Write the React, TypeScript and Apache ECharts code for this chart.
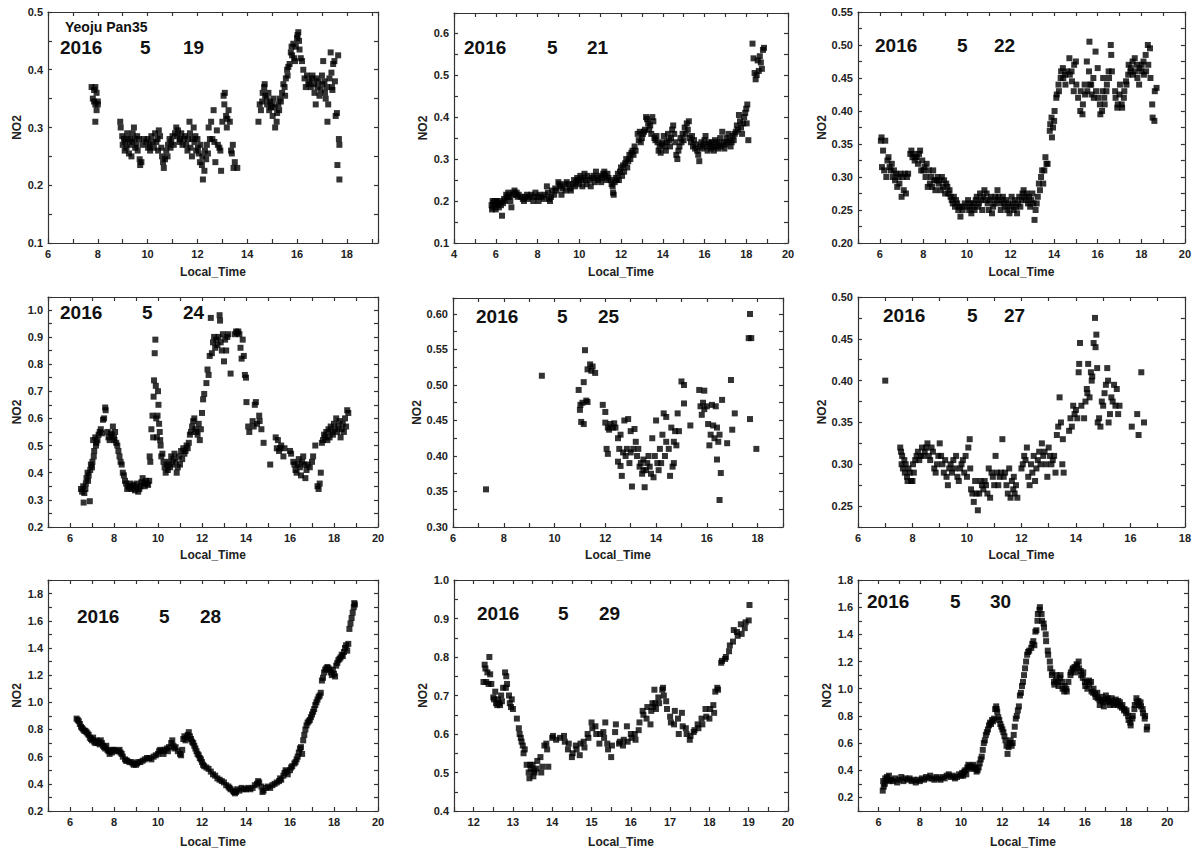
import React, { useEffect, useRef } from 'react';
import * as echarts from 'echarts';

const YEAR = '2016';
const MONTH = '5';
const DAYS = ['19', '21', '22', '24', '25', '27', '28', '29', '30'];
const SITE = 'Yeoju Pan35';
const X_NAME = 'Local_Time';
const Y_NAME = 'NO2';

const d0519 = [
  [7.75,0.37],[7.8,0.35],[7.85,0.365],[7.85,0.345],[7.9,0.37],[7.9,0.34],[7.95,0.36],[7.95,0.33],[7.9,0.31],[8.0,0.345],[8.0,0.34],
  [8.9,0.31],[8.92,0.3],[8.98,0.285],[9.0,0.27],[9.05,0.28],[9.08,0.26],[9.1,0.275],[9.15,0.265],[9.18,0.29],[9.2,0.28],[9.25,0.255],[9.28,0.27],[9.3,0.28],[9.35,0.25],[9.38,0.275],[9.4,0.29],[9.45,0.3],[9.48,0.28],[9.5,0.265],[9.55,0.27],[9.58,0.285],[9.6,0.26],[9.65,0.28],[9.68,0.245],[9.7,0.235],[9.75,0.24],[9.8,0.27],[9.85,0.28],
  [9.95,0.275],[10.0,0.28],[10.02,0.265],[10.08,0.27],[10.1,0.26],[10.15,0.285],[10.2,0.275],[10.25,0.265],[10.3,0.29],[10.35,0.275],[10.4,0.28],[10.42,0.26],[10.45,0.295],[10.5,0.285],[10.55,0.265],[10.58,0.25],[10.62,0.24],[10.65,0.23],[10.7,0.245],[10.75,0.26],[10.8,0.25],[10.82,0.27],[10.88,0.28],[10.92,0.265],[10.95,0.275],[11.0,0.285],[11.05,0.27],[11.1,0.29],[11.15,0.3],[11.2,0.285],[11.22,0.295],[11.28,0.275],[11.3,0.28],[11.35,0.29],[11.4,0.27],[11.45,0.28],[11.5,0.285],[11.55,0.27],[11.6,0.26],[11.62,0.28],[11.68,0.31],[11.7,0.29],[11.72,0.265],[11.78,0.25],[11.8,0.28],[11.85,0.3],[11.88,0.275],[11.92,0.285],[11.95,0.26],[12.0,0.28],[12.02,0.265],[12.05,0.255],[12.1,0.24],[12.12,0.27],[12.18,0.235],[12.2,0.25],[12.22,0.21],[12.28,0.225],[12.3,0.26],[12.35,0.245],[12.38,0.27],[12.42,0.255],[12.45,0.3],[12.5,0.28],[12.55,0.31],[12.6,0.28],[12.65,0.33],[12.68,0.275],[12.72,0.24],[12.78,0.295],[12.82,0.27],[12.88,0.265],[12.92,0.26],[12.95,0.225],[13.0,0.31],[13.05,0.355],[13.08,0.34],[13.1,0.36],[13.15,0.32],[13.18,0.3],[13.2,0.315],[13.25,0.33],[13.3,0.31],[13.35,0.26],[13.38,0.255],[13.42,0.27],[13.45,0.23],[13.5,0.24],[13.6,0.23],
  [14.45,0.31],[14.5,0.34],[14.55,0.33],[14.6,0.345],[14.62,0.36],[14.68,0.37],[14.7,0.375],[14.72,0.355],[14.78,0.35],[14.8,0.34],[14.85,0.36],[14.88,0.33],[14.92,0.345],[14.95,0.335],[15.0,0.34],[15.02,0.32],[15.05,0.35],[15.1,0.335],[15.12,0.3],[15.18,0.31],[15.2,0.325],[15.25,0.34],[15.28,0.33],[15.3,0.35],[15.35,0.345],[15.4,0.36],[15.45,0.375],[15.5,0.37],[15.52,0.355],[15.55,0.385],[15.6,0.4],[15.62,0.39],[15.65,0.405],[15.7,0.41],[15.75,0.43],[15.78,0.44],[15.8,0.425],[15.85,0.445],[15.88,0.42],[15.92,0.415],[15.95,0.44],[16.0,0.455],[16.02,0.46],[16.05,0.465],[16.08,0.45],[16.1,0.435],[16.15,0.42],[16.2,0.415],[16.25,0.4],[16.3,0.385],[16.35,0.37],[16.4,0.39],[16.45,0.375],[16.5,0.38],[16.55,0.37],[16.6,0.385],[16.62,0.39],[16.68,0.375],[16.7,0.36],[16.75,0.34],[16.78,0.385],[16.82,0.37],[16.85,0.38],[16.9,0.355],[16.95,0.365],[17.0,0.39],[17.02,0.375],[17.05,0.415],[17.1,0.38],[17.12,0.36],[17.15,0.35],[17.2,0.37],[17.22,0.31],[17.25,0.34],[17.3,0.385],[17.35,0.43],[17.38,0.395],[17.4,0.37],[17.42,0.365],[17.45,0.41],[17.5,0.415],[17.52,0.38],[17.55,0.32],[17.6,0.325],[17.65,0.425],[17.68,0.28],[17.7,0.27],[17.62,0.235],[17.7,0.21]
];

const d0521 = [
  [5.8,0.19],[5.82,0.18],[5.85,0.2],[5.88,0.185],[5.9,0.195],[5.95,0.2],[6.0,0.18],[6.02,0.19],[6.05,0.2],[6.1,0.195],[6.15,0.185],[6.2,0.2],[6.25,0.19],[6.3,0.165],[6.35,0.195],[6.4,0.205],[6.45,0.2],[6.5,0.215],[6.55,0.21],[6.6,0.22],[6.65,0.21],[6.7,0.2],[6.75,0.185],[6.8,0.215],[6.85,0.22],[6.9,0.225],[6.95,0.215],[7.0,0.22],[7.05,0.21],[7.1,0.215],[7.2,0.21],[7.3,0.205],[7.35,0.2],[7.4,0.21],[7.5,0.215],[7.55,0.205],[7.6,0.21],[7.7,0.215],[7.8,0.2],[7.85,0.21],[7.9,0.22],[8.0,0.21],[8.05,0.2],[8.1,0.215],[8.2,0.21],[8.3,0.205],[8.35,0.215],[8.45,0.235],[8.5,0.22],[8.55,0.205],[8.6,0.2],[8.65,0.21],[8.7,0.225],[8.8,0.215],[8.85,0.23],[8.9,0.225],[9.0,0.245],[9.05,0.24],[9.1,0.235],[9.15,0.215],[9.2,0.23],[9.3,0.24],[9.35,0.225],[9.4,0.245],[9.5,0.24],[9.55,0.23],[9.6,0.225],[9.7,0.24],[9.75,0.25],[9.8,0.235],[9.85,0.245],[9.9,0.255],[9.95,0.25],[10.0,0.24],[10.05,0.26],[10.1,0.25],[10.15,0.235],[10.2,0.255],[10.25,0.265],[10.3,0.25],[10.35,0.24],[10.4,0.26],[10.5,0.25],[10.55,0.235],[10.6,0.255],[10.7,0.26],[10.75,0.245],[10.8,0.27],[10.85,0.255],[10.9,0.25],[11.0,0.26],[11.05,0.245],[11.1,0.255],[11.15,0.265],[11.2,0.27],[11.25,0.26],[11.3,0.25],[11.35,0.265],[11.4,0.255],[11.5,0.25],[11.55,0.24],[11.6,0.235],[11.62,0.22],[11.65,0.215],[11.7,0.245],[11.75,0.255],[11.8,0.25],[11.85,0.265],[11.9,0.25],[11.95,0.27],[12.0,0.28],[12.05,0.26],[12.1,0.285],[12.15,0.27],[12.2,0.29],[12.25,0.3],[12.3,0.28],[12.35,0.295],[12.4,0.31],[12.45,0.3],[12.5,0.315],[12.55,0.32],[12.6,0.31],[12.65,0.33],[12.7,0.32],[12.8,0.36],[12.85,0.345],[12.9,0.365],[12.95,0.34],[13.0,0.35],[13.05,0.36],[13.1,0.365],[13.15,0.37],[13.2,0.4],[13.25,0.395],[13.3,0.385],[13.35,0.37],[13.4,0.38],[13.45,0.36],[13.5,0.4],[13.55,0.39],[13.6,0.35],[13.65,0.345],[13.7,0.355],[13.75,0.34],[13.8,0.32],[13.85,0.33],[13.9,0.315],[13.95,0.335],[14.0,0.34],[14.05,0.355],[14.1,0.33],[14.15,0.32],[14.2,0.34],[14.25,0.36],[14.3,0.345],[14.35,0.33],[14.4,0.35],[14.45,0.37],[14.5,0.38],[14.55,0.36],[14.6,0.34],[14.65,0.31],[14.7,0.3],[14.75,0.32],[14.8,0.33],[14.85,0.35],[14.9,0.34],[14.95,0.36],[15.0,0.345],[15.05,0.375],[15.1,0.36],[15.15,0.385],[15.2,0.37],[15.25,0.39],[15.3,0.35],[15.35,0.34],[15.4,0.355],[15.45,0.33],[15.5,0.345],[15.55,0.325],[15.6,0.335],[15.65,0.32],[15.7,0.31],[15.75,0.295],[15.8,0.33],[15.85,0.34],[15.9,0.325],[15.95,0.335],[16.0,0.345],[16.05,0.355],[16.1,0.33],[16.15,0.32],[16.2,0.34],[16.25,0.335],[16.3,0.325],[16.35,0.34],[16.4,0.33],[16.45,0.32],[16.5,0.345],[16.55,0.33],[16.6,0.34],[16.65,0.325],[16.7,0.335],[16.75,0.35],[16.8,0.33],[16.85,0.365],[16.9,0.34],[16.95,0.325],[17.0,0.335],[17.05,0.35],[17.1,0.34],[17.15,0.36],[17.2,0.345],[17.25,0.33],[17.3,0.34],[17.35,0.355],[17.4,0.345],[17.45,0.36],[17.5,0.365],[17.55,0.38],[17.6,0.37],[17.65,0.405],[17.7,0.39],[17.75,0.375],[17.8,0.36],[17.85,0.385],[17.9,0.4],[17.95,0.41],[18.0,0.42],[18.02,0.385],[18.05,0.43],[18.1,0.345],
  [18.3,0.575],[18.35,0.54],[18.4,0.505],[18.45,0.49],[18.5,0.5],[18.55,0.535],[18.6,0.51],[18.65,0.545],[18.7,0.53],[18.75,0.515],[18.8,0.56],[18.85,0.565]
];

const d0522 = [
  [6.05,0.355],[6.08,0.36],[6.1,0.315],[6.15,0.34],[6.2,0.31],[6.25,0.355],[6.3,0.3],[6.35,0.325],[6.4,0.33],[6.45,0.315],[6.5,0.31],[6.55,0.32],[6.6,0.3],[6.65,0.31],[6.7,0.295],[6.75,0.305],[6.8,0.285],[6.85,0.3],[6.9,0.29],[6.95,0.305],[7.0,0.27],[7.05,0.3],[7.1,0.28],[7.15,0.305],[7.2,0.275],[7.25,0.3],[7.3,0.305],
  [7.4,0.335],[7.45,0.34],[7.5,0.33],[7.55,0.335],[7.6,0.325],[7.65,0.33],[7.7,0.33],[7.75,0.32],[7.8,0.335],[7.85,0.34],[7.9,0.31],[7.95,0.325],[8.0,0.31],[8.05,0.315],[8.1,0.3],[8.15,0.32],[8.2,0.285],[8.25,0.31],[8.3,0.29],[8.35,0.3],[8.4,0.285],[8.45,0.31],[8.5,0.295],[8.55,0.28],[8.6,0.295],[8.65,0.3],[8.7,0.29],[8.75,0.295],[8.8,0.28],[8.85,0.3],[8.9,0.285],[8.95,0.295],[9.0,0.275],[9.05,0.29],[9.1,0.285],[9.15,0.275],[9.2,0.28],[9.25,0.27],[9.3,0.265],[9.35,0.26],[9.4,0.27],[9.45,0.255],[9.5,0.265],[9.55,0.26],[9.6,0.25],[9.65,0.255],[9.7,0.24],[9.75,0.255],[9.8,0.25],[9.9,0.26],
  [10.0,0.255],[10.05,0.265],[10.1,0.25],[10.15,0.26],[10.2,0.245],[10.25,0.255],[10.3,0.26],[10.35,0.25],[10.4,0.265],[10.45,0.27],[10.5,0.255],[10.55,0.26],[10.6,0.275],[10.65,0.265],[10.7,0.25],[10.75,0.27],[10.8,0.28],[10.85,0.265],[10.9,0.275],[10.95,0.26],[11.0,0.25],[11.05,0.265],[11.1,0.27],[11.15,0.245],[11.2,0.255],[11.25,0.26],[11.3,0.27],[11.35,0.265],[11.4,0.28],[11.45,0.27],[11.5,0.26],[11.55,0.25],[11.6,0.265],[11.65,0.27],[11.7,0.26],[11.75,0.255],[11.8,0.265],[11.85,0.25],[11.9,0.26],[11.95,0.245],[12.0,0.255],[12.05,0.27],[12.1,0.26],[12.15,0.25],[12.2,0.265],[12.25,0.255],[12.3,0.245],[12.35,0.26],[12.4,0.27],[12.45,0.255],[12.5,0.265],[12.55,0.275],[12.6,0.28],[12.65,0.27],[12.7,0.265],[12.75,0.275],[12.8,0.26],[12.85,0.27],[12.9,0.255],[12.95,0.265],[13.0,0.275],[13.05,0.26],[13.1,0.235],[13.15,0.25],[13.2,0.26],
  [13.25,0.27],[13.3,0.29],[13.35,0.28],[13.4,0.3],[13.45,0.31],[13.5,0.29],[13.55,0.31],[13.6,0.33],[13.65,0.32],[13.7,0.32],[13.8,0.37],[13.82,0.38],[13.88,0.39],[13.9,0.36],[13.95,0.375],[14.0,0.385],[14.02,0.4],[14.1,0.42],[14.12,0.425],[14.2,0.44],[14.22,0.43],[14.3,0.45],[14.32,0.46],[14.4,0.465],[14.42,0.45],[14.5,0.455],[14.52,0.44],[14.6,0.46],[14.7,0.48],[14.72,0.455],[14.8,0.46],[14.82,0.445],[14.9,0.43],[14.92,0.47],[15.0,0.475],[15.02,0.44],[15.1,0.42],[15.2,0.4],[15.22,0.43],[15.3,0.395],[15.32,0.41],[15.4,0.44],[15.42,0.425],[15.5,0.475],[15.52,0.43],[15.6,0.46],[15.62,0.505],[15.65,0.44],[15.7,0.44],[15.72,0.425],[15.8,0.45],[15.82,0.42],[15.9,0.49],[15.92,0.43],[16.0,0.465],[16.02,0.42],[16.1,0.41],[16.12,0.395],[16.2,0.4],[16.22,0.43],[16.25,0.45],[16.3,0.42],[16.32,0.41],[16.4,0.43],[16.42,0.44],[16.5,0.46],[16.52,0.45],[16.6,0.5],[16.62,0.485],[16.65,0.46],[16.8,0.43],[16.82,0.42],[16.9,0.405],[16.92,0.41],[17.0,0.425],[17.02,0.44],[17.1,0.41],[17.12,0.405],[17.2,0.42],[17.22,0.43],[17.3,0.445],[17.32,0.44],[17.4,0.455],[17.42,0.47],[17.5,0.46],[17.52,0.465],[17.6,0.475],[17.62,0.455],[17.7,0.48],[17.72,0.46],[17.8,0.47],[17.82,0.45],[17.9,0.44],[17.92,0.465],[18.0,0.46],[18.02,0.47],[18.1,0.475],[18.12,0.455],[18.2,0.485],[18.22,0.46],[18.3,0.5],[18.32,0.47],[18.4,0.495],[18.42,0.45],[18.5,0.41],[18.52,0.39],[18.6,0.385],[18.62,0.43],[18.7,0.435]
];

const d0524 = [
  [6.5,0.34],[6.55,0.33],[6.6,0.35],[6.62,0.29],[6.65,0.325],[6.7,0.34],[6.72,0.36],[6.75,0.38],[6.8,0.4],[6.82,0.37],[6.85,0.39],[6.9,0.295],[6.92,0.41],[6.95,0.43],[7.0,0.42],[7.02,0.44],[7.05,0.52],[7.08,0.46],[7.1,0.48],[7.15,0.53],[7.18,0.5],[7.2,0.51],[7.25,0.52],[7.3,0.54],[7.35,0.55],[7.4,0.56],[7.45,0.545],[7.5,0.595],[7.55,0.6],[7.6,0.64],[7.62,0.63],[7.7,0.55],[7.75,0.53],[7.8,0.52],[7.85,0.545],[7.9,0.54],[7.95,0.57],[8.0,0.53],[8.02,0.52],[8.05,0.55],[8.1,0.51],[8.15,0.5],[8.2,0.48],[8.25,0.46],[8.3,0.44],[8.35,0.43],[8.4,0.4],[8.45,0.39],[8.5,0.37],[8.55,0.36],[8.6,0.34],[8.65,0.35],[8.7,0.345],[8.75,0.36],[8.8,0.34],[8.85,0.35],[8.9,0.355],[8.95,0.335],[9.0,0.345],[9.05,0.36],[9.1,0.33],[9.15,0.34],[9.2,0.35],[9.25,0.365],[9.3,0.38],[9.35,0.36],[9.4,0.35],[9.45,0.37],[9.5,0.36],[9.55,0.355],[9.6,0.37],
  [9.62,0.46],[9.65,0.44],[9.7,0.56],[9.75,0.61],[9.78,0.53],[9.8,0.68],[9.82,0.74],[9.85,0.84],[9.88,0.89],[9.9,0.72],[9.92,0.6],[9.95,0.53],[9.98,0.61],[10.0,0.7],[10.02,0.65],[10.05,0.58],[10.08,0.55],[10.1,0.52],[10.12,0.5],[10.15,0.46],[10.2,0.47],[10.25,0.44],[10.3,0.42],[10.35,0.4],[10.4,0.43],[10.45,0.41],[10.5,0.44],[10.55,0.42],[10.6,0.46],[10.65,0.43],[10.7,0.45],[10.75,0.47],[10.8,0.44],[10.85,0.4],[10.9,0.42],[10.95,0.46],[11.0,0.43],[11.05,0.48],[11.1,0.45],[11.15,0.49],[11.2,0.47],[11.25,0.48],[11.3,0.5],[11.35,0.49],[11.4,0.51],[11.45,0.54],[11.5,0.55],[11.55,0.57],[11.6,0.59],[11.65,0.6],[11.7,0.56],[11.75,0.55],[11.8,0.54],[11.85,0.58],[11.9,0.52],[11.95,0.56],[12.0,0.62],[12.05,0.67],[12.1,0.69],[12.2,0.73],[12.25,0.78],[12.3,0.76],[12.35,0.83],[12.4,0.97],[12.45,0.84],[12.5,0.88],[12.55,0.9],[12.6,0.86],[12.65,0.89],[12.7,0.87],[12.75,0.9],[12.8,0.98],[12.82,0.96],[12.85,0.88],[12.9,0.85],[12.95,0.91],[13.0,0.81],[13.05,0.89],[13.1,0.85],[13.15,0.9],[13.2,0.91],[13.3,0.765],[13.5,0.91],[13.55,0.92],[13.6,0.915],[13.65,0.92],[13.7,0.91],[13.75,0.86],[13.8,0.82],[13.85,0.89],[13.9,0.83],[13.95,0.76],[14.0,0.75],[14.02,0.66],[14.1,0.57],[14.15,0.55],[14.3,0.59],[14.35,0.57],[14.4,0.65],[14.45,0.66],[14.5,0.58],[14.6,0.61],[14.62,0.59],[14.7,0.56],[14.8,0.51],[15.1,0.43],[15.35,0.53],[15.4,0.49],[15.45,0.52],[15.5,0.48],[15.55,0.49],[15.6,0.5],[15.7,0.46],[15.75,0.49],[16.0,0.48],[16.05,0.47],[16.15,0.44],[16.2,0.43],[16.25,0.41],[16.3,0.4],[16.35,0.43],[16.4,0.45],[16.45,0.42],[16.5,0.39],[16.55,0.44],[16.6,0.46],[16.65,0.43],[16.7,0.38],[16.75,0.41],[16.8,0.43],[16.9,0.42],[17.0,0.44],[17.05,0.46],[17.15,0.5],[17.25,0.35],[17.3,0.34],[17.35,0.36],[17.4,0.4],[17.45,0.51],[17.5,0.52],[17.55,0.54],[17.6,0.53],[17.65,0.55],[17.7,0.52],[17.75,0.56],[17.8,0.53],[17.85,0.57],[17.9,0.55],[17.95,0.54],[18.0,0.58],[18.05,0.56],[18.1,0.6],[18.15,0.55],[18.2,0.57],[18.25,0.59],[18.3,0.53],[18.35,0.56],[18.4,0.58],[18.45,0.55],[18.5,0.6],[18.55,0.57],[18.6,0.63],[18.65,0.62]
];

const d0525 = [
  [7.3,0.353],[9.5,0.513],
  [10.95,0.493],[11.0,0.465],[11.02,0.472],[11.05,0.448],[11.1,0.475],[11.15,0.504],[11.15,0.445],[11.2,0.549],[11.25,0.478],[11.3,0.476],[11.3,0.522],[11.4,0.529],[11.45,0.52],[11.5,0.526],[11.6,0.517],
  [11.9,0.472],[12.0,0.447],[12.0,0.462],[12.05,0.41],[12.1,0.44],[12.1,0.403],[12.15,0.437],[12.2,0.445],[12.3,0.44],[12.35,0.446],[12.4,0.44],[12.5,0.392],[12.5,0.425],[12.55,0.41],[12.6,0.43],[12.6,0.386],[12.65,0.372],[12.7,0.405],[12.75,0.45],[12.8,0.4],[12.85,0.41],[12.9,0.452],[12.95,0.39],[13.0,0.405],[13.0,0.435],[13.05,0.357],[13.1,0.41],[13.15,0.438],[13.2,0.42],[13.25,0.4],[13.3,0.41],[13.35,0.385],[13.4,0.39],[13.45,0.375],[13.5,0.38],[13.5,0.395],[13.55,0.356],[13.6,0.38],[13.65,0.39],[13.7,0.4],[13.75,0.385],[13.8,0.375],[13.85,0.425],[13.9,0.37],[13.95,0.4],[14.0,0.45],[14.05,0.39],[14.1,0.38],[14.15,0.41],[14.2,0.39],[14.25,0.43],[14.3,0.46],[14.35,0.4],[14.4,0.455],[14.4,0.42],[14.5,0.41],[14.55,0.372],[14.6,0.44],[14.65,0.385],[14.7,0.39],[14.7,0.42],[14.75,0.435],[14.8,0.415],[14.85,0.46],[14.9,0.435],[15.0,0.505],[15.1,0.5],[15.1,0.474],[15.35,0.443],
  [15.7,0.493],[15.75,0.47],[15.8,0.458],[15.85,0.475],[15.9,0.492],[15.9,0.466],[16.0,0.47],[16.05,0.445],[16.1,0.415],[16.15,0.43],[16.2,0.472],[16.25,0.443],[16.3,0.425],[16.35,0.47],[16.4,0.44],[16.4,0.395],[16.45,0.42],[16.5,0.43],[16.5,0.338],[16.55,0.376],[16.6,0.479],[16.8,0.418],[16.95,0.507],[17.0,0.437],[17.1,0.46],[17.65,0.566],[17.7,0.6],[17.75,0.566],[17.7,0.452],[17.95,0.41]
];

const d0527 = [
  [7.0,0.4],
  [7.55,0.32],[7.58,0.315],[7.6,0.3],[7.62,0.31],[7.65,0.295],[7.7,0.305],[7.72,0.29],[7.75,0.3],[7.8,0.285],[7.82,0.28],[7.85,0.295],[7.9,0.29],[7.95,0.28],[8.0,0.28],[8.02,0.3],[8.05,0.29],[8.1,0.305],[8.15,0.31],[8.2,0.315],[8.25,0.305],[8.3,0.31],[8.35,0.32],[8.4,0.31],[8.45,0.315],[8.5,0.32],[8.55,0.325],[8.6,0.31],[8.65,0.305],[8.7,0.32],[8.75,0.315],[8.8,0.295],[8.85,0.29],[8.9,0.3],[8.95,0.31],[9.0,0.325],[9.05,0.31],[9.1,0.3],[9.15,0.29],[9.2,0.305],[9.25,0.285],[9.3,0.275],[9.35,0.295],[9.4,0.3],[9.45,0.29],[9.5,0.305],[9.55,0.295],[9.6,0.31],[9.65,0.285],[9.7,0.28],[9.75,0.295],[9.8,0.3],[9.85,0.305],[9.9,0.29],[9.95,0.31],[10.0,0.285],[10.05,0.32],[10.1,0.33],[10.12,0.295],[10.15,0.27],[10.2,0.265],[10.25,0.255],[10.3,0.28],[10.35,0.265],[10.4,0.245],[10.45,0.265],[10.5,0.28],[10.55,0.275],[10.6,0.27],[10.65,0.28],[10.7,0.275],[10.75,0.265],[10.8,0.295],[10.85,0.26],[10.9,0.29],[10.95,0.285],[11.0,0.275],[11.05,0.31],[11.1,0.29],[11.15,0.275],[11.2,0.285],[11.25,0.29],[11.3,0.33],[11.35,0.285],[11.4,0.29],[11.45,0.275],[11.5,0.265],[11.55,0.295],[11.6,0.26],[11.65,0.28],[11.7,0.27],[11.72,0.285],[11.75,0.265],[11.8,0.275],[11.85,0.26],
  [12.0,0.295],[12.05,0.3],[12.1,0.31],[12.15,0.305],[12.2,0.32],[12.25,0.285],[12.3,0.275],[12.35,0.3],[12.4,0.29],[12.45,0.31],[12.5,0.28],[12.55,0.295],[12.6,0.305],[12.65,0.315],[12.7,0.3],[12.75,0.325],[12.8,0.31],[12.85,0.315],[12.9,0.3],[12.95,0.285],[13.0,0.32],[13.05,0.31],[13.1,0.3],[13.15,0.305],[13.2,0.31],[13.25,0.29],[13.3,0.335],[13.35,0.345],[13.4,0.38],[13.45,0.35],[13.5,0.3],[13.52,0.33],[13.55,0.29],
  [13.75,0.34],[13.8,0.355],[13.85,0.345],[13.9,0.37],[13.95,0.36],[14.0,0.365],[14.05,0.355],[14.1,0.41],[14.12,0.42],[14.15,0.445],[14.2,0.37],[14.3,0.355],[14.35,0.375],[14.4,0.39],[14.42,0.385],[14.45,0.42],[14.5,0.38],[14.55,0.41],[14.58,0.4],[14.6,0.405],[14.65,0.445],[14.7,0.475],[14.72,0.44],[14.75,0.455],[14.78,0.415],[14.8,0.35],[14.85,0.355],[14.9,0.345],[14.95,0.375],[15.0,0.37],[15.05,0.385],[15.1,0.395],[15.15,0.415],[15.18,0.4],[15.2,0.35],[15.25,0.36],[15.3,0.38],[15.35,0.375],[15.4,0.395],[15.45,0.37],[15.5,0.39],[15.55,0.36],[15.6,0.37],
  [16.05,0.345],[16.25,0.36],[16.3,0.335],[16.4,0.41],[16.5,0.35]
];

const d0528 = [
  [6.3,0.88],[6.35,0.87],[6.4,0.86],[6.45,0.84],[6.5,0.82],[6.55,0.81],[6.6,0.8],[6.65,0.79],[6.7,0.79],[6.75,0.78],[6.8,0.77],[6.85,0.76],[6.9,0.74],[6.95,0.73],[7.0,0.72],[7.05,0.74],[7.1,0.71],[7.15,0.7],[7.2,0.72],[7.25,0.7],[7.3,0.71],[7.35,0.69],[7.4,0.72],[7.45,0.7],[7.5,0.68],[7.55,0.67],[7.6,0.66],[7.65,0.68],[7.7,0.65],[7.75,0.64],[7.8,0.62],[7.85,0.64],[7.9,0.63],[7.95,0.65],[8.0,0.65],[8.1,0.64],[8.2,0.64],[8.25,0.65],[8.3,0.63],[8.35,0.62],[8.4,0.6],[8.5,0.58],[8.55,0.57],[8.6,0.57],[8.7,0.56],[8.8,0.56],[8.85,0.55],[8.9,0.54],[9.0,0.54],[9.05,0.55],[9.1,0.56],[9.2,0.56],[9.3,0.57],[9.4,0.58],[9.5,0.59],[9.6,0.59],[9.7,0.58],[9.8,0.6],[9.9,0.61],[10.0,0.62],[10.05,0.64],[10.1,0.65],[10.2,0.64],[10.25,0.62],[10.3,0.65],[10.4,0.66],[10.45,0.64],[10.5,0.67],[10.6,0.7],[10.65,0.72],[10.7,0.68],[10.75,0.66],[10.8,0.67],[10.9,0.64],[11.0,0.62],[11.05,0.61],[11.1,0.65],[11.15,0.73],[11.2,0.75],[11.25,0.72],[11.3,0.74],[11.35,0.76],[11.4,0.78],[11.45,0.75],[11.5,0.73],[11.55,0.71],[11.6,0.7],[11.65,0.68],[11.7,0.66],[11.75,0.64],[11.8,0.62],[11.85,0.61],[11.9,0.59],[11.95,0.58],[12.0,0.56],[12.05,0.54],[12.1,0.53],[12.2,0.52],[12.3,0.51],[12.4,0.49],[12.5,0.47],[12.6,0.46],[12.7,0.44],[12.8,0.43],[12.9,0.42],[13.0,0.41],[13.1,0.39],[13.2,0.38],[13.25,0.37],[13.3,0.36],[13.4,0.35],[13.45,0.34],[13.5,0.33],[13.55,0.34],[13.6,0.36],[13.7,0.35],[13.8,0.37],[13.9,0.36],[14.0,0.36],[14.1,0.37],[14.2,0.36],[14.3,0.37],[14.4,0.39],[14.5,0.4],[14.55,0.42],[14.6,0.41],[14.7,0.38],[14.75,0.34],[14.8,0.35],[14.9,0.37],[15.0,0.38],[15.1,0.37],[15.2,0.39],[15.3,0.4],[15.4,0.41],[15.5,0.42],[15.55,0.44],[15.6,0.43],[15.7,0.46],[15.75,0.48],[15.8,0.5],[15.85,0.49],[15.9,0.47],[16.0,0.5],[16.05,0.52],[16.1,0.53],[16.2,0.55],[16.25,0.56],[16.3,0.58],[16.35,0.6],[16.4,0.63],[16.45,0.66],[16.5,0.67],[16.55,0.62],[16.6,0.72],[16.65,0.76],[16.7,0.8],[16.75,0.83],[16.8,0.85],[16.85,0.86],[16.9,0.87],[16.95,0.89],[17.0,0.91],[17.05,0.93],[17.1,0.95],[17.15,0.98],[17.2,1.0],[17.25,1.02],[17.3,1.04],[17.35,1.05],[17.4,1.07],[17.45,1.16],[17.5,1.18],[17.55,1.22],[17.6,1.24],[17.65,1.25],[17.7,1.26],[17.75,1.25],[17.8,1.24],[17.85,1.22],[17.9,1.2],[17.95,1.24],[18.0,1.21],[18.05,1.19],[18.1,1.27],[18.15,1.29],[18.2,1.31],[18.25,1.32],[18.3,1.33],[18.35,1.35],[18.4,1.34],[18.45,1.37],[18.5,1.4],[18.55,1.42],[18.6,1.38],[18.65,1.43],[18.7,1.54],[18.75,1.58],[18.8,1.62],[18.85,1.66],[18.9,1.7],[18.92,1.73],[18.95,1.72]
];

const d0529 = [
  [12.25,0.735],[12.28,0.78],[12.3,0.77],[12.32,0.735],[12.35,0.76],[12.38,0.73],[12.4,0.8],[12.42,0.755],[12.45,0.73],[12.5,0.695],[12.52,0.69],[12.55,0.71],[12.57,0.68],[12.6,0.675],[12.62,0.69],[12.65,0.68],[12.67,0.675],[12.7,0.7],[12.72,0.685],[12.75,0.72],[12.8,0.76],[12.82,0.72],[12.83,0.75],[12.85,0.73],[12.9,0.7],[12.92,0.68],[12.95,0.67],[12.97,0.69],[13.0,0.665],[13.1,0.64],[13.15,0.615],[13.17,0.6],[13.2,0.59],[13.22,0.58],[13.25,0.57],[13.27,0.55],[13.3,0.56],[13.35,0.52],[13.4,0.5],[13.42,0.485],[13.44,0.52],[13.45,0.51],[13.5,0.52],[13.52,0.49],[13.54,0.505],[13.55,0.5],[13.6,0.51],[13.62,0.53],[13.7,0.54],[13.72,0.5],[13.75,0.515],[13.8,0.57],[13.85,0.575],[13.87,0.56],[13.9,0.515],[14.0,0.59],[14.02,0.595],[14.1,0.585],[14.2,0.59],[14.3,0.595],[14.32,0.58],[14.4,0.56],[14.42,0.575],[14.5,0.54],[14.52,0.55],[14.6,0.57],[14.62,0.56],[14.7,0.545],[14.72,0.575],[14.8,0.58],[14.82,0.565],[14.9,0.6],[14.92,0.59],[15.0,0.63],[15.02,0.615],[15.1,0.62],[15.12,0.6],[15.2,0.575],[15.22,0.6],[15.3,0.605],[15.32,0.59],[15.35,0.63],[15.4,0.575],[15.42,0.56],[15.5,0.54],[15.52,0.57],[15.6,0.605],[15.62,0.625],[15.7,0.575],[15.72,0.58],[15.8,0.57],[15.82,0.585],[15.9,0.62],[15.92,0.58],[16.0,0.6],[16.02,0.59],[16.1,0.6],[16.12,0.585],[16.2,0.61],[16.22,0.63],[16.3,0.66],[16.32,0.65],[16.4,0.64],[16.42,0.67],[16.5,0.625],[16.52,0.66],[16.55,0.68],[16.57,0.67],[16.6,0.715],[16.62,0.68],[16.64,0.665],[16.7,0.695],[16.72,0.68],[16.8,0.715],[16.82,0.72],[16.84,0.7],[16.9,0.685],[16.92,0.665],[17.0,0.645],[17.02,0.63],[17.1,0.625],[17.12,0.66],[17.2,0.64],[17.22,0.6],[17.3,0.655],[17.32,0.62],[17.4,0.615],[17.42,0.6],[17.5,0.585],[17.52,0.595],[17.6,0.605],[17.62,0.61],[17.7,0.625],[17.72,0.615],[17.8,0.64],[17.82,0.625],[17.9,0.665],[17.92,0.645],[18.0,0.64],[18.02,0.665],[18.1,0.675],[18.12,0.655],[18.15,0.71],[18.2,0.72],[18.22,0.715],[18.3,0.785],[18.32,0.79],[18.4,0.795],[18.42,0.8],[18.5,0.815],[18.52,0.83],[18.6,0.84],[18.62,0.87],[18.7,0.865],[18.72,0.855],[18.8,0.885],[18.82,0.86],[18.9,0.875],[18.92,0.89],[19.0,0.895],[19.02,0.935]
];

const d0530 = [
  [6.2,0.25],[6.22,0.32],[6.25,0.28],[6.3,0.3],[6.32,0.34],[6.4,0.35],[6.42,0.33],[6.5,0.36],[6.52,0.32],[6.6,0.33],[6.7,0.32],[6.8,0.34],[6.9,0.31],[7.0,0.33],[7.1,0.35],[7.2,0.32],[7.3,0.34],[7.4,0.33],[7.5,0.34],[7.6,0.32],[7.7,0.33],[7.8,0.31],[7.9,0.33],[8.0,0.32],[8.1,0.34],[8.2,0.33],[8.3,0.35],[8.4,0.34],[8.5,0.36],[8.6,0.34],[8.7,0.33],[8.8,0.35],[8.9,0.34],[9.0,0.33],[9.1,0.35],[9.2,0.34],[9.3,0.36],[9.4,0.37],[9.5,0.35],[9.6,0.36],[9.7,0.34],[9.8,0.35],[9.9,0.37],[10.0,0.36],[10.05,0.38],[10.1,0.36],[10.15,0.39],[10.2,0.4],[10.25,0.37],[10.3,0.42],[10.35,0.44],[10.4,0.43],[10.45,0.41],[10.5,0.43],[10.55,0.42],[10.6,0.44],[10.65,0.42],[10.7,0.41],[10.75,0.39],[10.8,0.4],[10.85,0.42],[10.9,0.45],[10.95,0.48],[11.0,0.5],[11.05,0.55],[11.1,0.6],[11.15,0.62],[11.2,0.66],[11.25,0.68],[11.3,0.7],[11.35,0.73],[11.4,0.75],[11.45,0.74],[11.5,0.77],[11.55,0.76],[11.6,0.78],[11.65,0.85],[11.7,0.87],[11.72,0.85],[11.75,0.83],[11.8,0.79],[11.85,0.77],[11.9,0.74],[11.95,0.72],[12.0,0.7],[12.05,0.68],[12.1,0.65],[12.15,0.62],[12.2,0.58],[12.25,0.52],[12.3,0.57],[12.35,0.6],[12.4,0.62],[12.45,0.58],[12.5,0.6],[12.55,0.66],[12.6,0.72],[12.65,0.78],[12.7,0.8],[12.75,0.84],[12.8,0.87],[12.85,0.95],[12.9,0.97],[12.95,1.02],[13.0,1.05],[13.05,1.1],[13.1,1.15],[13.15,1.2],[13.2,1.25],[13.25,1.27],[13.3,1.28],[13.4,1.3],[13.45,1.33],[13.5,1.35],[13.55,1.32],[13.6,1.42],[13.65,1.43],[13.7,1.5],[13.72,1.55],[13.8,1.58],[13.82,1.6],[13.9,1.55],[13.92,1.5],[14.0,1.48],[14.02,1.45],[14.1,1.4],[14.12,1.35],[14.2,1.28],[14.22,1.25],[14.3,1.2],[14.32,1.15],[14.4,1.1],[14.42,1.12],[14.5,1.05],[14.52,1.03],[14.6,1.06],[14.62,1.1],[14.7,1.05],[14.72,1.02],[14.8,1.08],[14.82,1.1],[14.9,1.05],[14.92,1.0],[15.0,0.98],[15.02,1.02],[15.1,1.0],[15.12,0.98],[15.2,1.05],[15.3,1.1],[15.32,1.12],[15.4,1.14],[15.42,1.15],[15.5,1.16],[15.52,1.12],[15.6,1.18],[15.62,1.17],[15.7,1.2],[15.72,1.15],[15.8,1.13],[15.82,1.1],[15.9,1.08],[15.92,1.12],[16.0,1.05],[16.02,1.02],[16.1,1.05],[16.12,1.0],[16.2,1.06],[16.22,1.03],[16.3,1.05],[16.32,0.98],[16.4,0.97],[16.42,1.0],[16.5,0.96],[16.52,0.94],[16.6,0.97],[16.62,0.93],[16.7,0.92],[16.72,0.88],[16.8,0.91],[16.82,0.94],[16.9,0.9],[16.92,0.87],[17.0,0.92],[17.02,0.95],[17.1,0.91],[17.12,0.93],[17.2,0.9],[17.22,0.88],[17.3,0.93],[17.32,0.91],[17.4,0.88],[17.42,0.9],[17.5,0.92],[17.52,0.89],[17.6,0.88],[17.62,0.91],[17.7,0.9],[17.72,0.87],[17.8,0.86],[17.82,0.88],[17.9,0.84],[17.92,0.85],[18.0,0.82],[18.02,0.84],[18.1,0.8],[18.12,0.77],[18.2,0.75],[18.22,0.73],[18.3,0.78],[18.32,0.8],[18.4,0.85],[18.42,0.88],[18.5,0.93],[18.52,0.9],[18.6,0.91],[18.62,0.88],[18.7,0.9],[18.72,0.87],[18.8,0.85],[18.82,0.82],[18.9,0.78],[18.92,0.8],[19.0,0.7],[19.02,0.72]
];

const FONT = '"Liberation Sans", Arial, Helvetica, sans-serif';
const INK = '#222';
const LINE = '#333';

const PANELS = [
  { data: d0519, grid: { left: 48, top: 12, width: 330, height: 231 }, x: [6, 19.25, 2], y: [0.1, 0.5, 0.1, 1], nameGapX: 23, ann: [60, 140, 183, 47] },
  { data: d0521, grid: { left: 454, top: 13, width: 334, height: 230 }, x: [4, 20, 2], y: [0.1, 0.648, 0.1, 1], nameGapX: 23, ann: [464, 547, 587, 47] },
  { data: d0522, grid: { left: 858, top: 12, width: 329, height: 231 }, x: [5, 20, 2], y: [0.2, 0.55, 0.05, 2], nameGapX: 23, ann: [875, 957, 994, 45] },
  { data: d0524, grid: { left: 48, top: 297, width: 330, height: 230 }, x: [5, 20, 2], y: [0.2, 1.047, 0.1, 1], nameGapX: 22, ann: [60, 142, 183, 312] },
  { data: d0525, grid: { left: 453, top: 298, width: 330, height: 229 }, x: [6, 19, 2], y: [0.3, 0.6225, 0.05, 2], nameGapX: 22, ann: [476, 557, 598, 316] },
  { data: d0527, grid: { left: 858, top: 297, width: 329, height: 230 }, x: [6, 18, 2], y: [0.225, 0.5, 0.05, 2], nameGapX: 22, ann: [883, 967, 1004, 315] },
  { data: d0528, grid: { left: 48, top: 580, width: 330, height: 231 }, x: [5, 20, 2], y: [0.2, 1.9, 0.2, 1], nameGapX: 25, ann: [77, 159, 200, 616] },
  { data: d0529, grid: { left: 454, top: 580, width: 334, height: 231 }, x: [11.5, 20, 1], y: [0.4, 1.0, 0.1, 1], nameGapX: 25, ann: [477, 558, 599, 613] },
  { data: d0530, grid: { left: 858, top: 580, width: 330, height: 231 }, x: [5, 21, 2], y: [0.1, 1.8, 0.2, 1], nameGapX: 25, ann: [867, 950, 990, 601] }
];

const fmt = (step: number, dec: number) => (v: number) => {
  const k = v / step;
  return Math.abs(k - Math.round(k)) < 1e-6 ? v.toFixed(dec) : '';
};

function buildOption() {
  const grid: any[] = [];
  const xAxis: any[] = [];
  const yAxis: any[] = [];
  const series: any[] = [];
  const graphic: any[] = [];
  const lineStyle = { color: LINE, width: 1.2 };
  const labelStyle = { color: INK, fontSize: 11, fontWeight: 'bold', fontFamily: FONT };
  const nameStyle = { color: INK, fontSize: 12, fontWeight: 'bold', fontFamily: FONT };
  PANELS.forEach((p, i) => {
    grid.push({ ...p.grid, containLabel: false });
    const [xmin, xmax, xstep] = p.x;
    const [ymin, ymax, ystep, dec] = p.y;
    const base = {
      type: 'value', gridIndex: i,
      axisLine: { show: true, onZero: false, lineStyle },
      axisTick: { show: true, inside: true, length: 4, lineStyle },
      splitLine: { show: false }
    };
    xAxis.push({ ...base, position: 'bottom', min: xmin, max: xmax, interval: xstep / 2,
      axisLabel: { ...labelStyle, margin: 5, formatter: fmt(xstep, 0) },
      name: X_NAME, nameLocation: 'middle', nameGap: p.nameGapX, nameTextStyle: nameStyle });
    xAxis.push({ ...base, position: 'top', min: xmin, max: xmax, interval: xstep / 2, axisLabel: { show: false } });
    yAxis.push({ ...base, position: 'left', min: ymin, max: ymax, interval: ystep / 2,
      axisLabel: { ...labelStyle, margin: 5, formatter: fmt(ystep, dec) },
      name: Y_NAME, nameLocation: 'middle', nameGap: 25, nameTextStyle: nameStyle });
    yAxis.push({ ...base, position: 'right', min: ymin, max: ymax, interval: ystep / 2, axisLabel: { show: false } });
    series.push({ type: 'scatter', xAxisIndex: 2 * i, yAxisIndex: 2 * i, data: p.data,
      symbol: 'rect', symbolSize: 6, itemStyle: { color: '#000' }, silent: true });
    const [ax, am, ad, ay] = p.ann;
    const parts: [string, number][] = [[YEAR, ax], [MONTH, am], [DAYS[i], ad]];
    parts.forEach(([t, x]) => {
      graphic.push({ type: 'text', x, y: ay, silent: true,
        style: { text: t, fill: '#111', fontSize: 19, fontWeight: 'bold', fontFamily: FONT, verticalAlign: 'middle', align: 'left' } });
    });
  });
  graphic.push({ type: 'text', x: 65, y: 27, silent: true,
    style: { text: SITE, fill: '#111', fontSize: 14, fontWeight: 'bold', fontFamily: FONT, verticalAlign: 'middle', align: 'left' } });
  return { animation: false, backgroundColor: '#fff', grid, xAxis, yAxis, series, graphic };
}

export default function App() {
  const ref = useRef<HTMLDivElement>(null);
  useEffect(() => {
    if (!ref.current) return;
    const chart = echarts.init(ref.current, null, { renderer: 'svg' });
    chart.setOption(buildOption() as any);
    return () => chart.dispose();
  }, []);
  return <div ref={ref} style={{ position: 'absolute', left: 0, top: 0, width: 1194, height: 850, background: '#fff' }} />;
}
